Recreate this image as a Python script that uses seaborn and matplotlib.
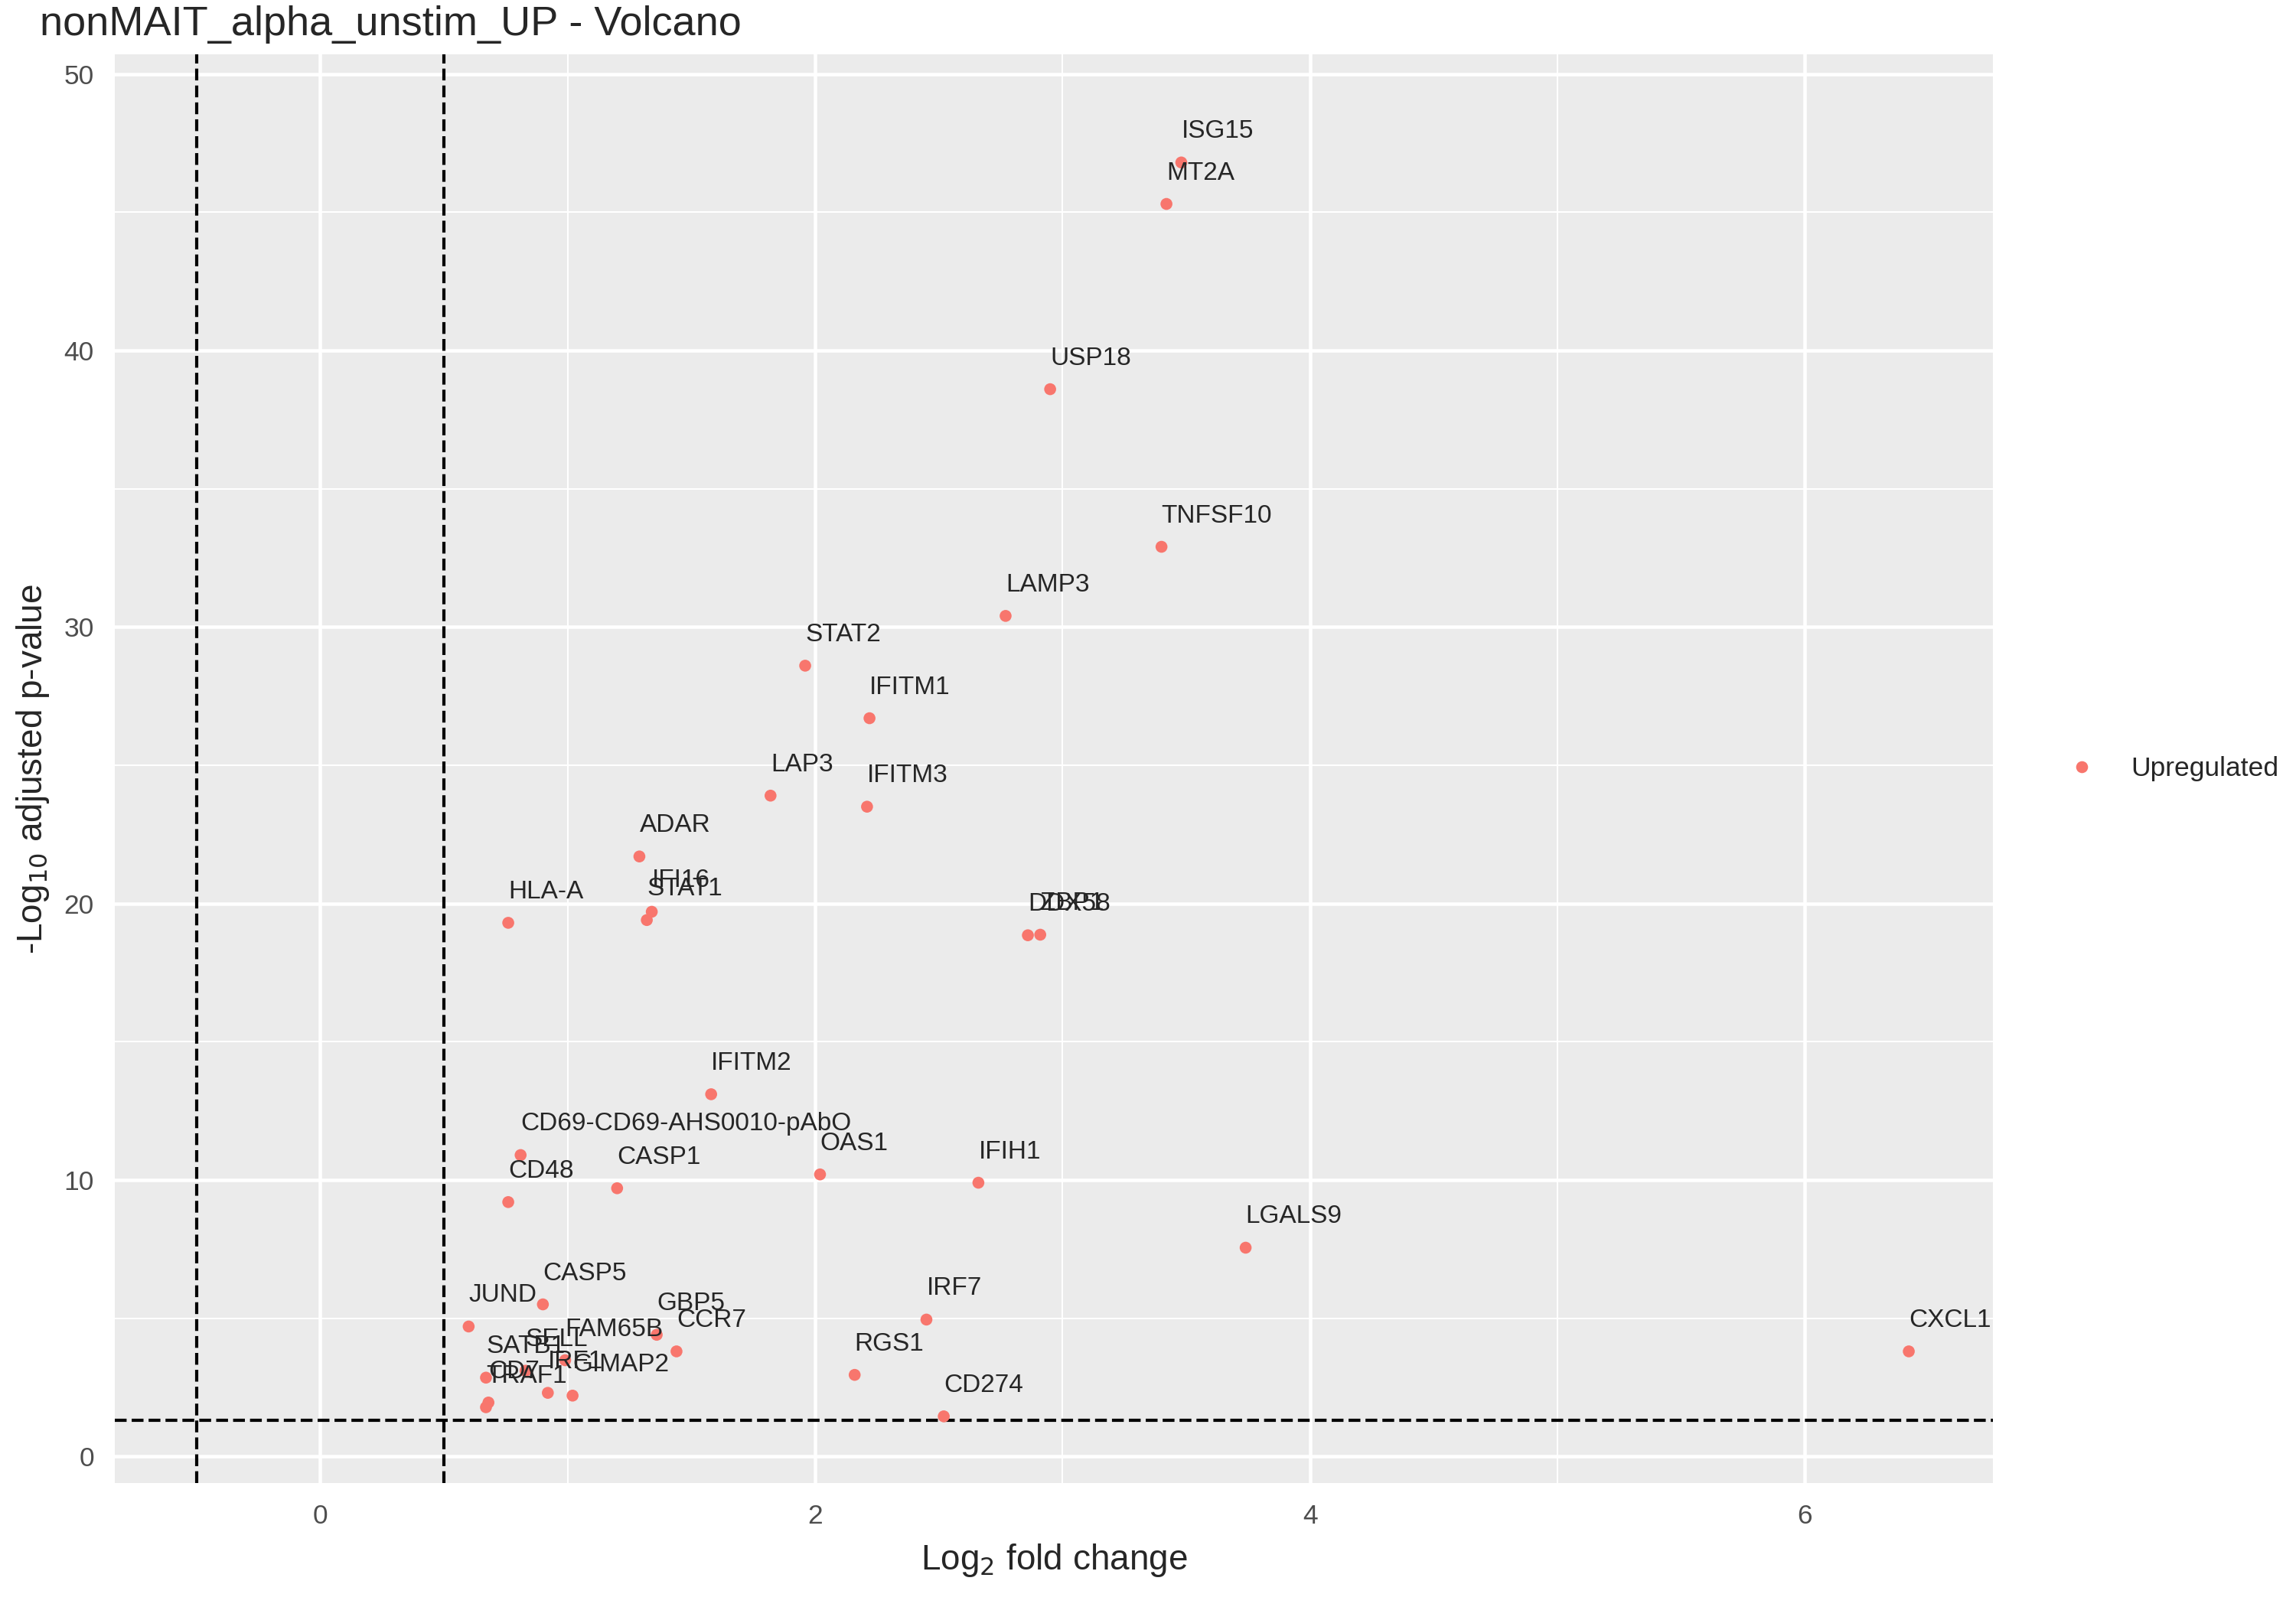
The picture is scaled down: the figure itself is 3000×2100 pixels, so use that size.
import matplotlib
matplotlib.use("Agg")
import matplotlib.pyplot as plt
from matplotlib.ticker import MultipleLocator
import seaborn as sns
import pandas as pd

genes = ["ISG15", "MT2A", "USP18", "TNFSF10", "LAMP3", "STAT2", "IFITM1", "LAP3",
         "IFITM3", "ADAR", "IFI16", "STAT1", "HLA-A", "DDX58", "ZBP1", "IFITM2",
         "CD69-CD69-AHS0010-pAbO", "CD48", "CASP1", "OAS1", "IFIH1", "LGALS9", "CXCL1",
         "JUND", "CASP5", "GBP5", "CCR7", "IRF7", "RGS1", "CD274", "FAM65B", "SELL",
         "IRF1", "GIMAP2", "SATB1", "CD7", "TRAF1"]
log2fc = [3.48, 3.42, 2.95, 3.40, 2.77, 1.96, 2.22, 1.82,
          2.21, 1.29, 1.34, 1.32, 0.76, 2.86, 2.91, 1.58,
          0.81, 0.76, 1.20, 2.02, 2.66, 3.74, 6.42,
          0.60, 0.90, 1.36, 1.44, 2.45, 2.16, 2.52, 0.99, 0.83,
          0.92, 1.02, 0.67, 0.68, 0.67]
neglog10p = [46.8, 45.3, 38.6, 32.9, 30.4, 28.6, 26.7, 23.9,
             23.5, 21.7, 19.7, 19.4, 19.3, 18.85, 18.87, 13.1,
             10.9, 9.2, 9.7, 10.2, 9.9, 7.55, 3.8,
             4.7, 5.5, 4.4, 3.8, 4.95, 2.95, 1.45, 3.48, 3.1,
             2.3, 2.2, 2.85, 1.95, 1.78]

df = pd.DataFrame({"gene": genes, "log2fc": log2fc, "p": neglog10p})
df["status"] = "Upregulated"

sns.set_theme(style="darkgrid", rc={"axes.facecolor": "#EBEBEB", "grid.color": "white"})
plt.rcParams["font.family"] = ["Liberation Sans", "DejaVu Sans"]

fig, ax = plt.subplots(figsize=(10, 7), dpi=300)
sns.scatterplot(data=df, x="log2fc", y="p", hue="status", palette=["#F8766D"],
                s=14, edgecolor="none", ax=ax, zorder=3)

for g, x, y in zip(df["gene"], df["log2fc"], df["p"]):
    ax.annotate(g, (x, y), xytext=(0, 6), textcoords="offset points",
                ha="left", va="bottom", fontsize=8, zorder=4)

ax.axvline(-0.5, color="black", ls="--", lw=1, zorder=2)
ax.axvline(0.5, color="black", ls="--", lw=1, zorder=2)
ax.axhline(1.3, color="black", ls="--", lw=1, zorder=2)

ax.set_xlim(-0.83, 6.76)
ax.set_ylim(-0.97, 50.7)
ax.xaxis.set_major_locator(MultipleLocator(2))
ax.xaxis.set_minor_locator(MultipleLocator(1))
ax.yaxis.set_major_locator(MultipleLocator(10))
ax.yaxis.set_minor_locator(MultipleLocator(5))
ax.grid(which="major", color="white", lw=1.1)
ax.grid(which="minor", color="white", lw=0.5)
ax.tick_params(which="both", length=3, color="#333333", labelsize=8.5, labelcolor="#4D4D4D")
ax.tick_params(which="minor", length=0)
for s in ax.spines.values():
    s.set_visible(False)

ax.set_xlabel(r"Log$_2$ fold change", fontsize=11)
ax.set_ylabel(r"-Log$_{10}$ adjusted p-value", fontsize=11)
ax.set_title("nonMAIT_alpha_unstim_UP - Volcano", loc="left", fontsize=13, x=-0.04)

ax.legend(loc="center left", bbox_to_anchor=(1.02, 0.5), frameon=False,
          fontsize=8.5, title=None)

fig.subplots_adjust(left=0.05, right=0.868, top=0.966, bottom=0.077)
fig.savefig("out.png", dpi=300)
